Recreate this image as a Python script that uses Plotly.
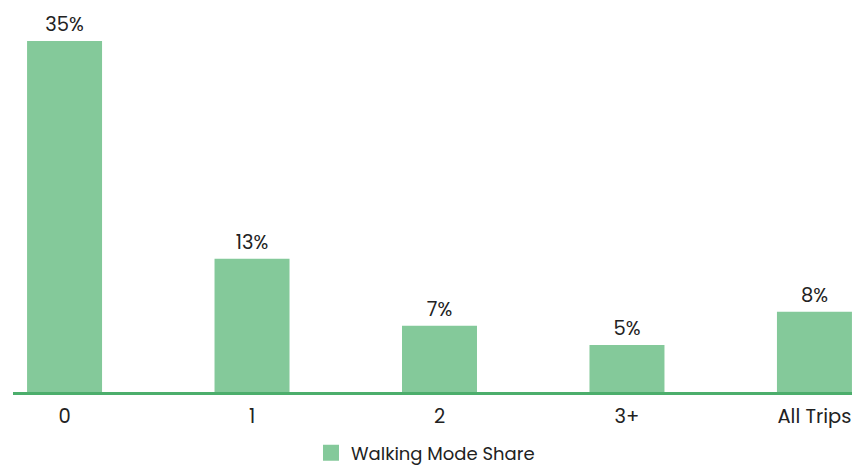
import plotly.graph_objects as go

categories = ["0", "1", "2", "3+", "All Trips"]
walking_share = [35.0, 13.3, 6.6, 4.7, 8.0]
labels = ["35%", "13%", "7%", "5%", "8%"]
series_name = "Walking Mode Share"

bar_color = "#84c99a"
line_color = "#4cae6c"
font_family = "Poppins, Lato, 'Open Sans', sans-serif"

fig = go.Figure()
fig.add_trace(go.Bar(
    x=categories,
    y=walking_share,
    text=labels,
    textposition="outside",
    textfont=dict(size=19.5, color="#222222", family=font_family),
    marker=dict(color=bar_color, line=dict(width=0)),
    width=0.4,
    cliponaxis=False,
    name=series_name,
    showlegend=False,
))
# legend entry with a larger square swatch
fig.add_trace(go.Scatter(
    x=[None], y=[None], mode="markers",
    marker=dict(symbol="square", size=18, color=bar_color),
    name=series_name, showlegend=True, hoverinfo="skip",
))

# page body has an 8px margin, so the figure is sized and placed to compensate
fig.update_layout(
    width=852, height=457,
    margin=dict(l=5, r=0, t=2, b=73, autoexpand=False),
    plot_bgcolor="white", paper_bgcolor="white",
    font=dict(family=font_family, size=19.5, color="#222222"),
    xaxis=dict(
        range=[-0.275, 4.243],
        showline=True, linecolor=line_color, linewidth=3,
        showgrid=False, zeroline=False, automargin=False,
        ticks="", ticklabelstandoff=5,
        tickfont=dict(size=19.5, color="#222222"),
    ),
    yaxis=dict(range=[0, 38.1], visible=False, showgrid=False, zeroline=False),
    legend=dict(
        orientation="h", x=0.487, xanchor="center", y=-0.16, yanchor="middle",
        font=dict(size=18, color="#222222"),
    ),
    showlegend=True,
)

fig.write_html("out.html")
